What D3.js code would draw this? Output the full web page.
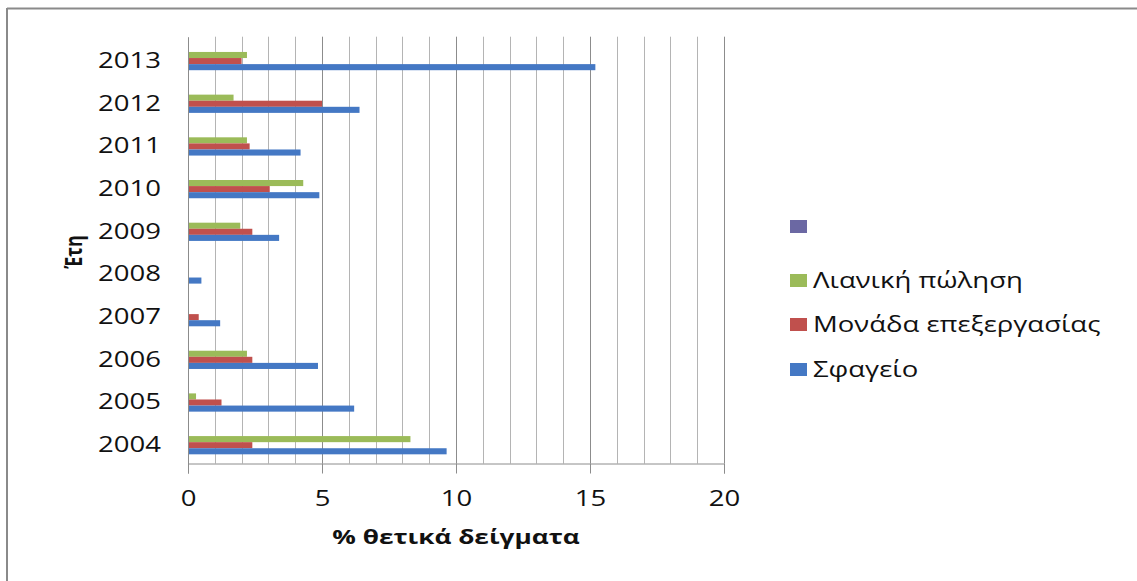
<!DOCTYPE html>
<html>
<head>
<meta charset="utf-8">
<script src="https://cdn.jsdelivr.net/npm/d3@7"></script>
<style>
  html, body { margin: 0; padding: 0; background: #fff; }
  svg { display: block; }
  text { font-family: "Open Sans", "Noto Sans", sans-serif; fill: #111; }
</style>
</head>
<body>
<svg id="chart" width="1137" height="581"></svg>
<script>
// Years on the category axis (bottom to top: 2004 ... 2013)
const years = ["2004", "2005", "2006", "2007", "2008", "2009", "2010", "2011", "2012", "2013"];

// % positive samples per sampling point
const slaughterhouse = [9.65, 6.2, 4.85, 1.2, 0.5, 3.4, 4.9, 4.2, 6.4, 15.2];
const processing     = [2.4, 1.25, 2.4, 0.4, 0, 2.4, 3.05, 2.3, 5.0, 2.0];
const retail         = [8.3, 0.3, 2.2, 0, 0, 1.95, 4.3, 2.2, 1.7, 2.2];
const unnamed        = [0, 0, 0, 0, 0, 0, 0, 0, 0, 0];

// Series names, in legend order (top to bottom)
const seriesNames = ["", "Λιανική πώληση", "Μονάδα επεξεργασίας", "Σφαγείο"];
const seriesValues = [unnamed, retail, processing, slaughterhouse];
const seriesColors = ["#6b68a3", "#9bbb59", "#c0504d", "#4478c4"];

const xTicks = [0, 5, 10, 15, 20];
const gridValues = d3.range(1, 21);

const xTitle = "% θετικά δείγματα";
const yTitle = "Έτη";

// ---- layout ----
const svg = d3.select("#chart");
const plot = { left: 188, right: 724, top: 36.7, bottom: 463.5 };
const SX = 1.31; // horizontal stretch applied to all horizontal text

const x = d3.scaleLinear().domain([0, 20]).range([plot.left, plot.right]);
const y = d3.scaleBand()
  .domain(years.slice().reverse())
  .range([plot.top, plot.bottom])
  .paddingInner(0.43)
  .paddingOuter(0.215);
const ySub = d3.scaleBand()
  .domain(seriesNames.map((_, i) => i))
  .range([0, y.bandwidth()]);

// Outer frame (top and left edges)
svg.append("line").attr("x1", 7).attr("x2", 1137).attr("y1", 8.5).attr("y2", 8.5)
  .attr("stroke", "#8a8a8a").attr("stroke-width", 2);
svg.append("line").attr("x1", 7).attr("x2", 7).attr("y1", 8).attr("y2", 581)
  .attr("stroke", "#8a8a8a").attr("stroke-width", 2);

// Vertical gridlines
svg.append("g").selectAll("line").data(gridValues).join("line")
  .attr("x1", d => Math.round(x(d)) + 0.5).attr("x2", d => Math.round(x(d)) + 0.5)
  .attr("y1", plot.top).attr("y2", plot.bottom)
  .attr("stroke", d => d % 5 === 0 ? "#8c8c8c" : "#b4b4b4")
  .attr("stroke-width", 1);

// Bars
const groups = svg.append("g").selectAll("g").data(years).join("g")
  .attr("transform", d => `translate(0,${y(d)})`);
groups.selectAll("rect")
  .data((yr, yi) => seriesValues.map((vals, si) => ({ si, v: vals[yi] })))
  .join("rect")
  .attr("x", x(0))
  .attr("y", d => ySub(d.si))
  .attr("width", d => x(d.v) - x(0))
  .attr("height", ySub.bandwidth())
  .attr("fill", d => seriesColors[d.si]);

// X axis
const xAxis = svg.append("g").attr("transform", `translate(0,${plot.bottom})`)
  .call(d3.axisBottom(x).tickValues(xTicks).tickSize(10).tickFormat(d3.format("d")));
xAxis.select(".domain").attr("stroke", "#8c8c8c");
xAxis.selectAll(".tick line").attr("stroke", "#8c8c8c");
xAxis.selectAll(".tick text").remove();
xAxis.selectAll(".tick").append("text")
  .attr("transform", `translate(0,42) scale(${SX},1)`)
  .attr("text-anchor", "middle")
  .style("font-size", "21px")
  .text(d => d);

// Y axis
const yAxis = svg.append("g").attr("transform", `translate(${plot.left},0)`)
  .call(d3.axisLeft(y).tickSize(0).tickPadding(0));
yAxis.select(".domain").attr("stroke", "#8c8c8c");
yAxis.selectAll(".tick text").remove();
yAxis.selectAll(".tick").append("text")
  .attr("transform", `translate(-27,10) scale(${SX},1)`)
  .attr("text-anchor", "end")
  .style("font-size", "21px")
  .text(d => d);

// Axis titles
svg.append("text")
  .attr("transform", `translate(${(plot.left + plot.right) / 2},544) scale(${SX},1)`)
  .attr("text-anchor", "middle")
  .style("font-size", "20px").style("font-weight", "bold")
  .text(xTitle);
svg.append("text")
  .attr("transform", "translate(82,252) rotate(-90) scale(1,1.3)")
  .attr("text-anchor", "middle")
  .style("font-size", "18px").style("font-weight", "bold")
  .text(yTitle);

// Legend
const legendBaselines = [234, 288, 332, 377];
const legend = svg.append("g").selectAll("g").data(seriesNames).join("g")
  .attr("transform", (d, i) => `translate(790,${legendBaselines[i]})`);
legend.append("rect")
  .attr("x", 0).attr("y", -14).attr("width", 17).attr("height", 13)
  .attr("fill", (d, i) => seriesColors[i]);
legend.append("text")
  .attr("transform", `translate(23,0) scale(${SX},1)`)
  .style("font-size", "21px")
  .text(d => d);
</script>
</body>
</html>
